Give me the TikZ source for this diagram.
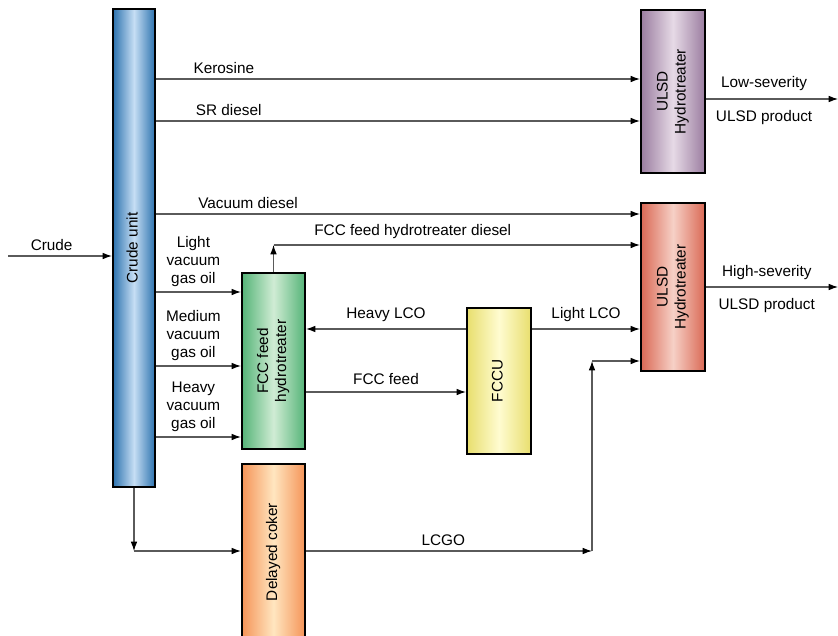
\documentclass[tikz,border=0pt]{standalone}
\usepackage{fontspec}
\setmainfont{Liberation Sans}
\usetikzlibrary{arrows.meta}
\tikzset{>={Latex[length=7pt,width=5pt,color=black]}}

\definecolor{crudeedge}{RGB}{45,115,175}
\definecolor{crudemid}{RGB}{198,222,244}
\definecolor{fccedge}{RGB}{85,180,120}
\definecolor{fccmid}{RGB}{208,236,212}
\definecolor{fccuedge}{RGB}{232,222,110}
\definecolor{fccumid}{RGB}{255,252,208}
\definecolor{lowedge}{RGB}{155,125,160}
\definecolor{lowmid}{RGB}{230,218,230}
\definecolor{highedge}{RGB}{218,105,85}
\definecolor{highmid}{RGB}{246,208,198}
\definecolor{cokeredge}{RGB}{245,148,88}
\definecolor{cokermid}{RGB}{255,230,192}
\definecolor{flowgray}{RGB}{90,90,90}

\newcommand{\vtext}[1]{\rotatebox{90}{\begin{tabular}{@{}c@{}}#1\end{tabular}}}

\tikzset{
  unitbox/.style 2 args={draw=black, line width=1.6pt, inner sep=0pt,
    left color=#1, right color=#1, middle color=#2},
  flow/.style={->, draw=flowgray, line width=0.8pt}
}

\begin{document}
\begin{tikzpicture}[x=0.75pt, y=-0.75pt, every node/.style={font=\fontsize{11.5}{13.5}\selectfont}]
    \clip (0,0) rectangle (838,635);

    % Units
    \node[unitbox={crudeedge}{crudemid}, minimum width=31.5pt, minimum height=358.5pt] (crude) at (134,248) {\vtext{Crude unit}};
    \node[unitbox={fccedge}{fccmid}, minimum width=47.25pt, minimum height=132pt] (fcc) at (273.5,361) {\vtext{FCC feed\\hydrotreater}};
    \node[unitbox={fccuedge}{fccumid}, minimum width=48pt, minimum height=109.5pt] (fccu) at (499,381) {\vtext{FCCU}};
    \node[unitbox={lowedge}{lowmid}, minimum width=48pt, minimum height=122.25pt] (ulsd1) at (673,91.5) {\vtext{ULSD\\Hydrotreater}};
    \node[unitbox={highedge}{highmid}, minimum width=48pt, minimum height=126pt] (ulsd2) at (673,287) {\vtext{ULSD\\Hydrotreater}};
    \node[unitbox={cokeredge}{cokermid}, minimum width=47.25pt, minimum height=132pt] (coker) at (273.5,552) {\vtext{Delayed coker}};

    % Free ends
    \coordinate (feed) at (8,256);
    \coordinate (cokerin) at (crude.south |- 0,551);
    \coordinate (fccup) at (fcc.north |- 0,245);
    \coordinate (lcgoA) at (592,551);
    \coordinate (lcgoB) at (592,361);
    \coordinate (lowout) at (838,99);
    \coordinate (highout) at (838,287);

    % Crude unit streams
    \draw[flow] (feed) -- (crude.west |- feed) node[pos=0.42, above] {Crude};
    \draw[flow] (crude.east |- 0,79) -- (ulsd1.west |- 0,79) node[pos=0.14, above] {Kerosine};
    \draw[flow] (crude.east |- 0,121) -- (ulsd1.west |- 0,121) node[pos=0.15, above] {SR diesel};
    \draw[flow] (crude.east |- 0,214) -- (ulsd2.west |- 0,214) node[pos=0.19, above] {Vacuum diesel};
    \draw[flow] (crude.east |- 0,292) -- (fcc.west |- 0,292) node[pos=0.44, above, align=center] {Light\\vacuum\\gas oil};
    \draw[flow] (crude.east |- 0,366) -- (fcc.west |- 0,366) node[pos=0.44, above, align=center] {Medium\\vacuum\\gas oil};
    \draw[flow] (crude.east |- 0,437) -- (fcc.west |- 0,437) node[pos=0.44, above, align=center] {Heavy\\vacuum\\gas oil};
    \draw[flow] (crude.south) -- (cokerin);
    \draw[flow] (cokerin) -- (coker.west |- cokerin);

    % FCC streams
    \draw[flow] (fcc.north) -- (fccup);
    \draw[flow] (fccup) -- (ulsd2.west |- fccup) node[pos=0.38, above=1pt] {FCC feed hydrotreater diesel};
    \draw[flow] (fccu.west |- 0,329) -- (fcc.east |- 0,329) node[midway, above=1.5pt] {Heavy LCO};
    \draw[flow] (fcc.east |- 0,392) -- (fccu.west |- 0,392) node[midway, above=1.5pt] {FCC feed};
    \draw[flow] (fccu.east |- 0,329) -- (ulsd2.west |- 0,329) node[midway, above=1.5pt] {Light LCO};

    % Coker gas oil
    \draw[flow] (coker.east |- lcgoA) -- (lcgoA) node[pos=0.48, above] {LCGO};
    \draw[flow] (lcgoA) -- (lcgoB);
    \draw[flow] (lcgoB) -- (ulsd2.west |- lcgoB);

    % Products
    \draw[flow] (ulsd1.east |- lowout) -- (lowout)
        node[pos=0.44, above=2.25pt] {Low-severity}
        node[pos=0.44, below=4.5pt] {ULSD product};
    \draw[flow] (ulsd2.east |- highout) -- (highout)
        node[pos=0.46, above=1.5pt] {High-severity}
        node[pos=0.46, below=4.5pt] {ULSD product};
\end{tikzpicture}
\end{document}
